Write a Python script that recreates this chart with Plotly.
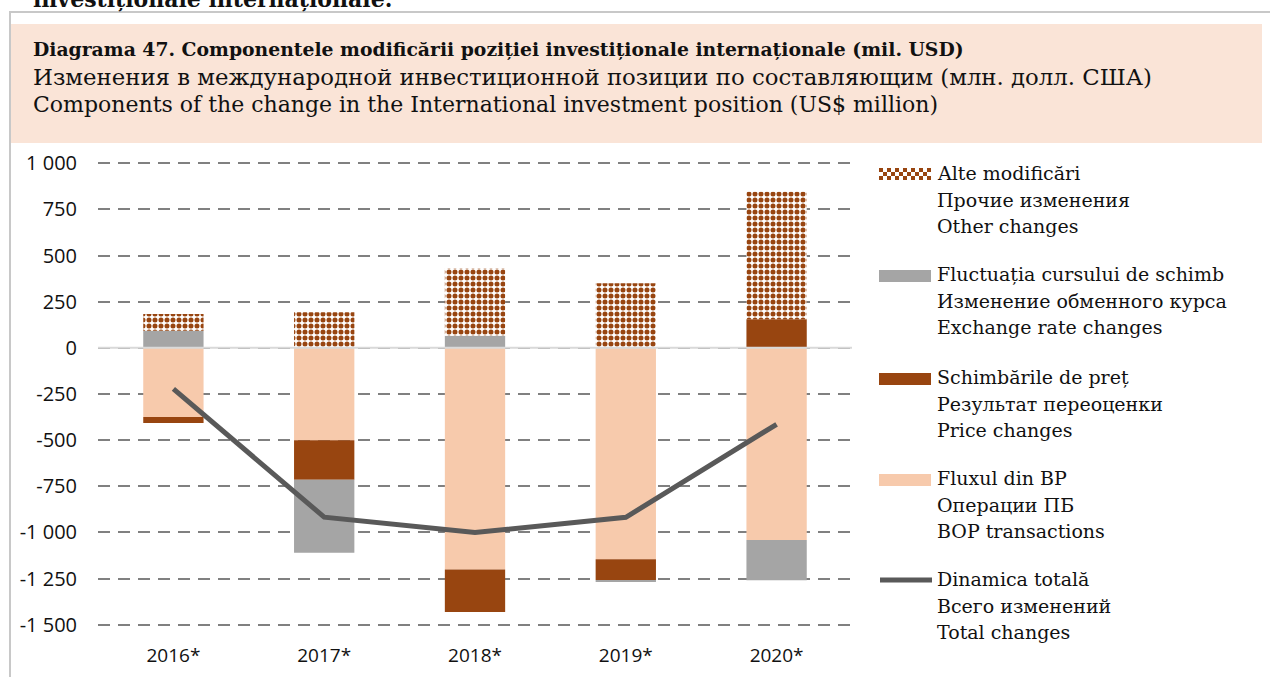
import plotly.graph_objects as go

# ---------------- data ----------------
years = ["2016*", "2017*", "2018*", "2019*", "2020*"]
bop_transactions = [-375, -501, -1200, -1145, -1041]
price_changes = [-32, -214, -231, -113, 155]
exchange_rate_changes = [93, -395, 65, -10, -218]
other_changes = [90, 193, 366, 350, 690]
total_changes = [-222, -917, -1000, -918, -414]

y_tick_vals = [1000, 750, 500, 250, 0, -250, -500, -750, -1000, -1250, -1500]
y_tick_text = ["1 000", "750", "500", "250", "0", "-250", "-500", "-750", "-1 000", "-1 250", "-1 500"]

legend_labels = {
    "other": ["Alte modificări", "Прочие изменения", "Other changes"],
    "fx": ["Fluctuația cursului de schimb", "Изменение обменного курса", "Exchange rate changes"],
    "price": ["Schimbările de preț", "Результат переоценки", "Price changes"],
    "bop": ["Fluxul din BP", "Операции ПБ", "BOP transactions"],
    "total": ["Dinamica totală", "Всего изменений", "Total changes"],
}
legend_order = ["other", "fx", "price", "bop", "total"]

title_lines = [
    "<b>Diagrama 47. Componentele modificării poziției investiționale internaționale (mil. USD)</b>",
    "Изменения в международной инвестиционной позиции по составляющим (млн. долл. США)",
    "Components of the change in the International investment position (US$ million)",
]
cut_heading = "<b>investiționale internaționale.</b>"

# ---------------- style ----------------
C_BOP = "#F7CAAC"
C_PRICE = "#984510"
C_FX = "#A5A5A5"
C_LINE = "#595959"
TXT = "#111111"
SERIF = "DejaVu Serif"
SANS = "Open Sans"

W, H = 1270, 677
Y_TOP, Y_BOT = 1012, -1512          # small padding so edge gridlines are drawn
PX_PER_UNIT = 462 / 2500
T = round(163 - (Y_TOP - 1000) * PX_PER_UNIT)
B = round(H - (625 + (-1500 - Y_BOT) * PX_PER_UNIT))
L, R = 98, 418
PW, PH = W - L - R, H - T - B


def px_x(p):
    return (p - L) / PW


def px_y(p):
    return (H - B - p) / PH


fig = go.Figure()
fig.add_trace(go.Bar(x=years, y=bop_transactions, name="BOP transactions",
                     marker=dict(color=C_BOP, line=dict(width=0))))
fig.add_trace(go.Bar(x=years, y=price_changes, name="Price changes",
                     marker=dict(color=C_PRICE, line=dict(width=0))))
fig.add_trace(go.Bar(x=years, y=exchange_rate_changes, name="Exchange rate changes",
                     marker=dict(color=C_FX, line=dict(width=0))))
fig.add_trace(go.Bar(x=years, y=other_changes, name="Other changes",
                     marker=dict(color="white", line=dict(width=0),
                                 pattern=dict(shape=".", fgcolor=C_PRICE, bgcolor="white", fgopacity=1,
                                              size=6, solidity=0.55))))
fig.add_trace(go.Scatter(x=years, y=total_changes, name="Total changes", mode="lines",
                         line=dict(color=C_LINE, width=5)))

shapes = [
    dict(type="rect", xref="paper", yref="paper", x0=px_x(10), x1=px_x(1262), y0=px_y(143), y1=px_y(24),
         fillcolor="#FAE4D7", line=dict(width=0), layer="below"),
    dict(type="line", xref="paper", yref="paper", x0=px_x(9), x1=px_x(1272), y0=px_y(12), y1=px_y(12),
         line=dict(color="#C8C8C8", width=2)),
    dict(type="line", xref="paper", yref="paper", x0=px_x(10), x1=px_x(10), y0=px_y(12), y1=px_y(680),
         line=dict(color="#C8C8C8", width=2)),
    dict(type="line", xref="paper", yref="y", x0=0, x1=1, y0=0, y1=0,
         line=dict(color="#D9D9D9", width=2), layer="above"),
]

annotations = [
    dict(text=cut_heading, xref="paper", yref="paper", x=px_x(31), y=px_y(14), xanchor="left", yanchor="bottom",
         showarrow=False, font=dict(family=SERIF, size=22, color=TXT)),
]
for txt, yc, sz in zip(title_lines, [49, 77, 104], [18.8, 22.8, 22.0]):
    annotations.append(dict(text=txt, xref="paper", yref="paper", x=px_x(31), y=px_y(yc), xanchor="left",
                            yanchor="middle", showarrow=False, font=dict(family=SERIF, size=sz, color=TXT)))

# ---------------- legend (drawn manually) ----------------
LEG_SYM_X0, LEG_SYM_X1, LEG_TXT_X = 879, 931, 935
first_line_y = [173, 274, 377, 478, 579]
LINE_GAP = 26.7
sym_fill = {"fx": C_FX, "price": C_PRICE, "bop": C_BOP}
for key, y0 in zip(legend_order, first_line_y):
    for j, line in enumerate(legend_labels[key]):
        annotations.append(dict(text=line, xref="paper", yref="paper", x=px_x(LEG_TXT_X), y=px_y(y0 + j * LINE_GAP),
                                xanchor="left", yanchor="middle", showarrow=False,
                                font=dict(family=SERIF, size=19, color=TXT)))
    if key in sym_fill:
        shapes.append(dict(type="rect", xref="paper", yref="paper", x0=px_x(LEG_SYM_X0), x1=px_x(LEG_SYM_X1),
                           y0=px_y(y0 + 8), y1=px_y(y0 - 4), fillcolor=sym_fill[key], line=dict(width=0)))
    elif key == "total":
        shapes.append(dict(type="line", xref="paper", yref="paper", x0=px_x(LEG_SYM_X0 + 1), x1=px_x(LEG_SYM_X1 + 1),
                           y0=px_y(y0 + 1), y1=px_y(y0 + 1), line=dict(color=C_LINE, width=5)))
    else:  # checkerboard swatch
        cell = 4
        ncols = (LEG_SYM_X1 - LEG_SYM_X0) // cell
        for r in range(3):
            for c in range(ncols):
                if (r + c) % 2 == 0:
                    xa = LEG_SYM_X0 + c * cell
                    ya = y0 - 5 + r * cell
                    shapes.append(dict(type="rect", xref="paper", yref="paper", x0=px_x(xa), x1=px_x(xa + cell),
                                       y0=px_y(ya + cell), y1=px_y(ya), fillcolor=C_PRICE, line=dict(width=0)))

fig.update_layout(
    width=W, height=H,
    margin=dict(l=L, r=R, t=T, b=B, pad=0, autoexpand=False),
    paper_bgcolor="white", plot_bgcolor="white",
    barmode="relative", bargap=0.6,
    showlegend=False,
    xaxis=dict(showgrid=False, showline=False, zeroline=False, ticks="outside", ticklen=11, automargin=False,
               tickcolor="rgba(0,0,0,0)", tickfont=dict(family=SANS, size=19, color=TXT)),
    yaxis=dict(range=[Y_BOT, Y_TOP], tickvals=y_tick_vals, ticktext=y_tick_text, automargin=False,
               showgrid=True, gridcolor="#808080", gridwidth=2, griddash="12px,8px",
               zeroline=False, showline=False, ticks="outside", ticklen=16, tickcolor="rgba(0,0,0,0)",
               tickfont=dict(family=SANS, size=20, color=TXT)),
    shapes=shapes,
    annotations=annotations,
)

fig.write_html("out.html", config={"displayModeBar": False},
               post_script="document.body.style.margin='0';")
